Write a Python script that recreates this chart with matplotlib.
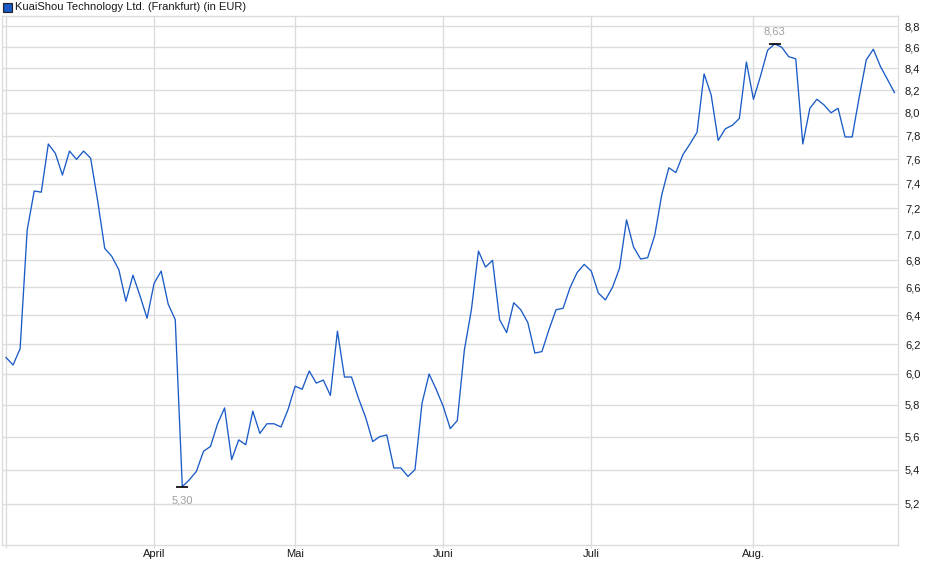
import numpy as np
import pandas as pd
import matplotlib
matplotlib.use("Agg")
import matplotlib.pyplot as plt
from matplotlib.ticker import FixedLocator, FuncFormatter, NullLocator
from matplotlib.patches import Rectangle

plt.rcParams['font.family'] = ['Liberation Sans', 'DejaVu Sans']

title = "KuaiShou Technology Ltd. (Frankfurt) (in EUR)"

# Xetra / Frankfurt holidays inside the range
holidays = ["2025-04-18", "2025-04-21", "2025-05-01"]

# closing prices, one per trading day (3 Mar 2025 .. 29 Aug 2025)
prices = [
    6.11, 6.06, 6.17, 7.03, 7.34, 7.33, 7.73, 7.65, 7.47, 7.67,
    7.60, 7.67, 7.61, 7.26, 6.89, 6.83, 6.73, 6.50, 6.69, 6.54,
    6.38, 6.63, 6.72, 6.48, 6.37, 5.30, 5.34, 5.39, 5.51, 5.54,
    5.68, 5.78, 5.46, 5.58, 5.55, 5.76, 5.62, 5.68, 5.68, 5.66,
    5.77, 5.92, 5.90, 6.02, 5.94, 5.96, 5.86, 6.29, 5.98, 5.98,
    5.84, 5.72, 5.57, 5.60, 5.61, 5.41, 5.41, 5.36, 5.40, 5.81,
    6.00, 5.90, 5.79, 5.65, 5.70, 6.16, 6.44, 6.87, 6.75, 6.80,
    6.37, 6.28, 6.49, 6.44, 6.35, 6.14, 6.15, 6.30, 6.44, 6.45,
    6.60, 6.71, 6.77, 6.72, 6.56, 6.51, 6.60, 6.74, 7.11, 6.90,
    6.81, 6.82, 6.99, 7.31, 7.53, 7.49, 7.64, 7.73, 7.83, 8.35,
    8.16, 7.76, 7.86, 7.89, 7.95, 8.46, 8.12, 8.33, 8.57, 8.63,
    8.60, 8.51, 8.49, 7.73, 8.04, 8.12, 8.07, 8.00, 8.04, 7.79,
    7.79, 8.14, 8.48, 8.58, 8.42, 8.30, 8.18,
]

month_labels = ["", "April", "Mai", "Juni", "Juli", "Aug."]
y_ticks = [5.2, 5.4, 5.6, 5.8, 6.0, 6.2, 6.4, 6.6, 6.8, 7.0,
           7.2, 7.4, 7.6, 7.8, 8.0, 8.2, 8.4, 8.6, 8.8]

days = pd.bdate_range("2025-03-03", "2025-08-29")
days = days[~days.isin(pd.to_datetime(holidays))]
x = np.arange(len(prices))

# first trading day of each month -> grid position
month_start = [i for i in range(len(days)) if i == 0 or days[i].month != days[i - 1].month]

W, H = 940, 579
fig = plt.figure(figsize=(W / 100, H / 100), dpi=100)
ax = fig.add_axes([2 / W, 1 - 545 / H, 896 / W, 529 / H])

grid_c = "#dcdcdc"
ax.set_yscale("log")
ax.set_xlim(-0.57, 126.5)
ax.set_ylim(4.97, 8.90)

ax.yaxis.set_major_locator(FixedLocator(y_ticks))
ax.yaxis.set_minor_locator(NullLocator())
ax.yaxis.set_major_formatter(FuncFormatter(lambda v, p: f"{v:.1f}".replace(".", ",")))
ax.yaxis.tick_right()
ax.tick_params(axis="y", length=0, pad=5, labelsize=8, labelcolor="#1a1a1a")

ax.set_xticks(month_start)
ax.set_xticklabels(month_labels)
ax.tick_params(axis="x", length=2, color=grid_c, pad=1, labelsize=8, labelcolor="#1a1a1a")

ax.grid(True, color=grid_c, linewidth=1)
ax.set_axisbelow(True)
for s in ax.spines.values():
    s.set_color(grid_c)
    s.set_linewidth(1)

ax.plot(x, prices, color="#1a5bc6", linewidth=0.95)

# min / max markers
lo = int(np.argmin(prices))
hi = int(np.argmax(prices))
for i, dy in ((lo, -10), (hi, 9)):
    ax.plot(x[i], prices[i], marker="_", markersize=9, color="black", markeredgewidth=1.2)
    ax.annotate(f"{prices[i]:.2f}".replace(".", ","), (x[i], prices[i]),
                xytext=(0, dy), textcoords="offset points",
                ha="center", va="center", fontsize=8, color="#a0a0a0")

# title with legend square
fig.patches.append(Rectangle((3 / W, 1 - 12 / H), 9 / W, 9 / H, transform=fig.transFigure,
                             facecolor="#1a5bc6", edgecolor="#222222", linewidth=0.8))
fig.text(15 / W, 1 - 7.5 / H, title, fontsize=8, va="center", ha="left", color="#1a1a1a")

fig.savefig("out.png", dpi=100)
